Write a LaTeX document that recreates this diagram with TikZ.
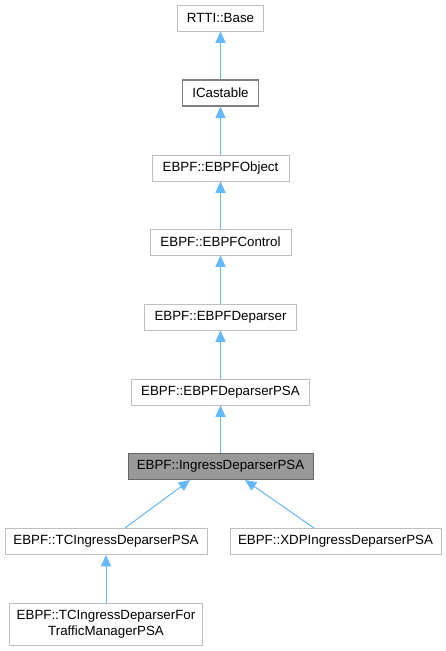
\documentclass[tikz,border=0pt]{standalone}
\usepackage{fontspec}
\setmainfont{Liberation Sans}
\usetikzlibrary{positioning}
\usetikzlibrary{arrows.meta}
\definecolor{edgeblue}{HTML}{63B8FF}
\definecolor{boxline}{HTML}{BFBFBF}
\definecolor{midline}{HTML}{808080}
\definecolor{darkline}{HTML}{666666}
\definecolor{selfill}{HTML}{999999}

\begin{document}
\begin{tikzpicture}[x=0.75pt,y=-0.75pt,
  cls/.style={draw=boxline,fill=white,line width=0.75pt,font=\fontsize{10}{12}\selectfont,minimum height=19.5pt,inner sep=2pt,align=center},
  inh/.style={draw=edgeblue,line width=0.75pt,-{Triangle[width=7.5pt,length=8.5pt]}}]
\useasboundingbox[fill=white] (0,0) rectangle (446,651);

\node[cls,minimum width=64.5pt] (base) at (220.5,18) {RTTI::Base};
\node[cls,draw=midline,line width=1pt,minimum width=57pt] (icast) at (220.5,93) {ICastable};
\node[cls,minimum width=102.75pt] (obj) at (220.5,168) {EBPF::EBPFObject};
\node[cls,minimum width=105.75pt] (ctrl) at (220.5,242) {EBPF::EBPFControl};
\node[cls,minimum width=114pt] (dep) at (220.5,317) {EBPF::EBPFDeparser};
\node[cls,minimum width=133.5pt] (deppsa) at (220.5,392) {EBPF::EBPFDeparserPSA};
\node[cls,draw=darkline,fill=selfill,minimum width=138.75pt] (ingress) at (220.5,466.5) {EBPF::IngressDeparserPSA};
\node[cls,minimum width=151.5pt] (tcing) at (106,541.5) {EBPF::TCIngressDeparserPSA};
\node[cls,minimum width=158.25pt] (xdping) at (335.5,541.5) {EBPF::XDPIngressDeparserPSA};
\node[cls,minimum width=144.75pt,minimum height=31.5pt,inner sep=1pt] (tctm) at (106,624) {EBPF::TCIngressDeparserFor\\TrafficManagerPSA};

% inheritance
\draw[inh] (icast) -- (base);
\draw[inh] (obj) -- (icast);
\draw[inh] (ctrl) -- (obj);
\draw[inh] (dep) -- (ctrl);
\draw[inh] (deppsa) -- (dep);
\draw[inh] (ingress) -- (deppsa);
\draw[inh] ([xshift=14.25pt]tcing.north) -- ([xshift=-22.9pt]ingress.south);
\draw[inh] ([xshift=-16.1pt]xdping.north) -- ([xshift=18.4pt]ingress.south);
\draw[inh] (tctm) -- (tcing);

\end{tikzpicture}
\end{document}
